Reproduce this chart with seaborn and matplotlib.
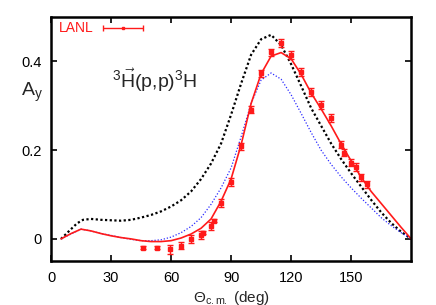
import matplotlib
matplotlib.use("Agg")
import matplotlib.pyplot as plt
import seaborn as sns
import numpy as np

# ---- data ----
theta_red = [5, 10, 15, 20, 25, 30, 35, 40, 45, 50, 55, 60, 65, 70, 75, 80, 85, 90, 95,
             100, 105, 110, 115, 120, 125, 130, 135, 140, 145, 150, 155, 160, 165, 170, 175, 180]
ay_red = [0.0, 0.012, 0.022, 0.018, 0.012, 0.007, 0.003, 0.0, -0.004, -0.006, -0.006, -0.004,
          0.002, 0.011, 0.024, 0.045, 0.085, 0.135, 0.212, 0.305, 0.372, 0.412, 0.420, 0.406,
          0.371, 0.329, 0.293, 0.255, 0.214, 0.176, 0.139, 0.107, 0.080, 0.053, 0.026, 0.0]

theta_blk = [5, 10, 13, 16, 20, 25, 30, 35, 40, 45, 50, 55, 60, 65, 70, 75, 80, 85, 90, 95,
             100, 105, 110, 115, 120, 125, 130, 135, 140, 145, 150, 155, 160, 165, 170, 175, 180]
ay_blk = [0.0, 0.022, 0.035, 0.043, 0.045, 0.043, 0.042, 0.041, 0.043, 0.048, 0.054, 0.062,
          0.073, 0.087, 0.107, 0.135, 0.170, 0.215, 0.280, 0.350, 0.415, 0.450, 0.460, 0.437,
          0.394, 0.345, 0.295, 0.255, 0.215, 0.180, 0.148, 0.118, 0.088, 0.060, 0.036, 0.016, 0.0]

theta_blu = [5, 10, 15, 20, 25, 30, 35, 40, 45, 50, 55, 60, 65, 70, 75, 80, 85, 90, 95,
             100, 105, 110, 115, 120, 125, 130, 135, 140, 145, 150, 155, 160, 165, 170, 175, 180]
ay_blu = [0.0, 0.011, 0.022, 0.018, 0.012, 0.008, 0.003, -0.001, -0.004, -0.004, -0.002, 0.004,
          0.014, 0.028, 0.048, 0.078, 0.115, 0.160, 0.230, 0.305, 0.358, 0.374, 0.360, 0.325,
          0.283, 0.240, 0.200, 0.168, 0.140, 0.115, 0.092, 0.070, 0.048, 0.030, 0.014, 0.0]

theta_lanl = [45.8, 52.8, 59.5, 65, 69.8, 75, 76, 80, 81.5, 84.8, 90, 95, 99.8, 105, 109.8,
              114.8, 119.8, 125, 129.8, 134.8, 139.8, 144.8, 146.5, 150, 152.3, 155, 157.8]
ay_lanl = [-0.020, -0.020, -0.023, -0.015, 0.0, 0.009, 0.014, 0.029, 0.041, 0.080, 0.128,
           0.209, 0.291, 0.373, 0.421, 0.442, 0.415, 0.376, 0.331, 0.301, 0.272, 0.212,
           0.194, 0.172, 0.163, 0.139, 0.123]
err_lanl = [0.003, 0.003, 0.010, 0.008, 0.009, 0.009, 0.003, 0.008, 0.004, 0.009, 0.009,
            0.008, 0.008, 0.008, 0.008, 0.009, 0.009, 0.009, 0.009, 0.009, 0.009, 0.008,
            0.008, 0.008, 0.009, 0.008, 0.008]

xticks = [0, 30, 60, 90, 120, 150]
yticks = [0, 0.2, 0.4]
ytick_labels = ["0", "0.2", "0.4"]

# ---- style ----
sns.set_style("ticks")
plt.rcParams["font.family"] = ["Liberation Sans", "DejaVu Sans"]
plt.rcParams["mathtext.fontset"] = "custom"
plt.rcParams["mathtext.rm"] = "Liberation Sans"
plt.rcParams["mathtext.it"] = "Liberation Sans:italic"

fig = plt.figure(figsize=(4.36, 3.05), dpi=100)
ax = fig.add_axes([0.117, 0.144, 0.826, 0.800])

sns.lineplot(x=theta_blk, y=ay_blk, ax=ax, color="black", lw=1.6,
             linestyle=(0, (1, 1.1)), sort=False, estimator=None)
sns.lineplot(x=theta_blu, y=ay_blu, ax=ax, color="#2a2aff", lw=0.9,
             linestyle=(0, (1, 1.5)), sort=False, estimator=None)
sns.lineplot(x=theta_red, y=ay_red, ax=ax, color="#ff1a1a", lw=1.2,
             sort=False, estimator=None)
ax.errorbar(theta_lanl, ay_lanl, yerr=err_lanl, fmt="s", ms=2.5, color="#ff1a1a",
            ecolor="#ff1a1a", elinewidth=1.0, capsize=2.0, capthick=1.0)

# legend (gnuplot style)
ax.text(0.021, 0.955, "LANL", transform=ax.transAxes, color="#ff1a1a",
        fontsize=10, va="center", ha="left")
ax.errorbar([0.2], [0.955], xerr=[0.055], fmt="s", ms=1.5, color="#ff1a1a",
            elinewidth=1.0, capsize=2.0, capthick=1.0, transform=ax.transAxes)
ax.text(0.17, 0.74, r"$^{3}\vec{\mathrm{H}}(\mathrm{p{,}p})^{3}\mathrm{H}$",
        transform=ax.transAxes, fontsize=14, va="center", ha="left")

ax.set_xlim(0, 180)
ax.set_ylim(-0.05, 0.5)
ax.set_xticks(xticks)
ax.set_xticklabels([str(t) for t in xticks])
ax.set_yticks(yticks)
ax.set_yticklabels(ytick_labels)
ax.tick_params(direction="in", length=4, width=1.2, top=True, right=True,
               labelsize=10.5, pad=7, colors="black")
for s in ax.spines.values():
    s.set_visible(True)
    s.set_linewidth(1.8)
    s.set_color("black")

ax.set_xlabel(r"$\Theta_{\mathrm{c.m.}}$ (deg)", fontsize=11, labelpad=3)
ax.set_ylabel(r"A$_{\mathrm{y}}$", fontsize=14, rotation=0, va="center", ha="center")
ax.yaxis.set_label_coords(-0.052, 0.693)

fig.savefig("out.png", dpi=100)
